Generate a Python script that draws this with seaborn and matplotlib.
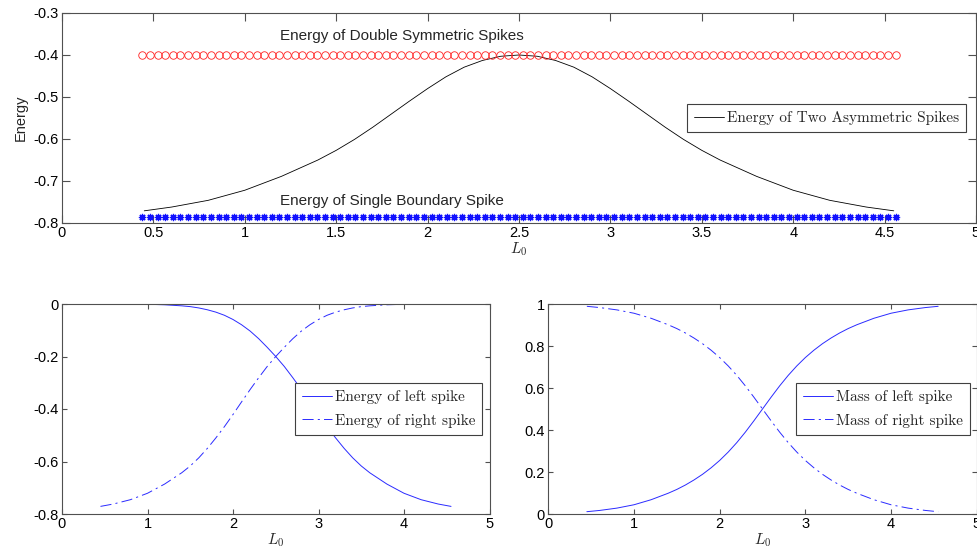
import numpy as np
import pandas as pd
import matplotlib
matplotlib.use("Agg")
import matplotlib.pyplot as plt
import seaborn as sns

# ---------------- data ----------------
L0 = [0.45, 0.6, 0.8, 1.0, 1.2,
      1.4, 1.5, 1.6, 1.7, 1.8, 1.9, 2.0, 2.1, 2.2, 2.3, 2.4, 2.5,
      2.6, 2.7, 2.8, 2.9, 3.0, 3.1, 3.2, 3.3, 3.4, 3.5, 3.6,
      3.8, 4.0, 4.2, 4.4, 4.55]
energy_two_asym = [-0.771, -0.762, -0.746, -0.722, -0.689,
                   -0.650, -0.627, -0.601, -0.572, -0.541, -0.510, -0.480,
                   -0.452, -0.429, -0.413, -0.403, -0.400,
                   -0.403, -0.413, -0.429, -0.452, -0.480, -0.510, -0.541,
                   -0.572, -0.601, -0.627, -0.650,
                   -0.689, -0.722, -0.746, -0.762, -0.771]
energy_left = [0.000, 0.000, -0.0005, -0.001, -0.003,
               -0.007, -0.010, -0.015, -0.022, -0.031, -0.043, -0.059,
               -0.079, -0.103, -0.132, -0.165, -0.200,
               -0.238, -0.281, -0.326, -0.373, -0.421, -0.467, -0.510,
               -0.550, -0.586, -0.617, -0.643,
               -0.686, -0.721, -0.7455, -0.762, -0.771]
energy_right = [-0.771, -0.762, -0.7455, -0.721, -0.686,
                -0.643, -0.617, -0.586, -0.550, -0.510, -0.467, -0.421,
                -0.373, -0.326, -0.281, -0.238, -0.200,
                -0.165, -0.132, -0.103, -0.079, -0.059, -0.043, -0.031,
                -0.022, -0.015, -0.010, -0.007,
                -0.003, -0.001, -0.0005, 0.000, 0.000]
mass_left = [0.011, 0.017, 0.028, 0.044, 0.068,
             0.099, 0.117, 0.138, 0.162, 0.189, 0.220, 0.255,
             0.295, 0.340, 0.390, 0.444, 0.500,
             0.556, 0.610, 0.660, 0.705, 0.745, 0.780, 0.811,
             0.838, 0.862, 0.883, 0.901,
             0.932, 0.956, 0.972, 0.983, 0.989]
mass_right = [0.989, 0.983, 0.972, 0.956, 0.932,
              0.901, 0.883, 0.862, 0.838, 0.811, 0.780, 0.745,
              0.705, 0.660, 0.610, 0.556, 0.500,
              0.444, 0.390, 0.340, 0.295, 0.255, 0.220, 0.189,
              0.162, 0.138, 0.117, 0.099,
              0.068, 0.044, 0.028, 0.017, 0.011]

L0_markers = np.linspace(0.44, 4.56, 100)
energy_double_symmetric = -0.400
energy_single_boundary = -0.785

top_xticks = [0, 0.5, 1, 1.5, 2, 2.5, 3, 3.5, 4, 4.5, 5]
top_xticklabels = ["0", "0.5", "1", "1.5", "2", "2.5", "3", "3.5", "4", "4.5", "5"]
top_yticks = [-0.8, -0.7, -0.6, -0.5, -0.4, -0.3]
top_yticklabels = ["-0.8", "-0.7", "-0.6", "-0.5", "-0.4", "-0.3"]
bot_xticks = [0, 1, 2, 3, 4, 5]
bot_xticklabels = ["0", "1", "2", "3", "4", "5"]
bl_yticks = [-0.8, -0.6, -0.4, -0.2, 0]
bl_yticklabels = ["-0.8", "-0.6", "-0.4", "-0.2", "0"]
br_yticks = [0, 0.2, 0.4, 0.6, 0.8, 1]
br_yticklabels = ["0", "0.2", "0.4", "0.6", "0.8", "1"]

# ---------------- style ----------------
sns.set_theme(style="white")
plt.rcParams["font.family"] = ["Liberation Sans", "DejaVu Sans"]
plt.rcParams["mathtext.fontset"] = "cm"
plt.rcParams["axes.unicode_minus"] = False
plt.rcParams["lines.scale_dashes"] = False

SPINE = "#505050"
TICKFS = 10.5

fig = plt.figure(figsize=(9.77, 5.55), dpi=100)
ax_top = fig.add_axes([62 / 977, 1 - 223 / 555, 914 / 977, 210 / 555])
ax_bl = fig.add_axes([62 / 977, 1 - 514 / 555, 427.5 / 977, 210 / 555])
ax_br = fig.add_axes([548.3 / 977, 1 - 514 / 555, 428.4 / 977, 210 / 555])


def style_axes(ax, ticklen):
    for s in ax.spines.values():
        s.set_visible(True)
        s.set_color(SPINE)
        s.set_linewidth(0.8)
    ax.tick_params(direction="in", top=True, right=True, bottom=True, left=True,
                   length=ticklen, width=0.8, color=SPINE, labelsize=TICKFS,
                   labelcolor="black", pad=2.5)
    ax.grid(False)
    ax.set_facecolor("white")


legend_font = {"family": "cmr10", "size": 11}

# ---------------- top panel ----------------
df_top = pd.DataFrame({"L0": L0, "E": energy_two_asym})
sns.lineplot(data=df_top, x="L0", y="E", ax=ax_top, color="black", linewidth=0.6,
             estimator=None, sort=False, label="Energy of Two Asymmetric Spikes")
ax_top.plot(L0_markers, np.full(len(L0_markers), energy_double_symmetric),
            linestyle="none", marker="o", markersize=5.4, markerfacecolor="none",
            markeredgecolor="#ff2020", markeredgewidth=0.6, zorder=3)
ax_top.plot(L0_markers, np.full(len(L0_markers), energy_single_boundary),
            linestyle="none", marker=(8, 2, 0), markersize=5.2,
            markeredgecolor="#1010ff", markeredgewidth=0.9, zorder=3)
ax_top.set_xlim(0, 5)
ax_top.set_ylim(-0.8, -0.3)
ax_top.set_xticks(top_xticks)
ax_top.set_xticklabels(top_xticklabels)
ax_top.set_yticks(top_yticks)
ax_top.set_yticklabels(top_yticklabels)
style_axes(ax_top, 5.5)
ax_top.set_xlabel("$L_0$", fontsize=11, labelpad=0)
ax_top.set_ylabel("Energy", fontsize=10.5, labelpad=4)
ax_top.text(1.19, -0.355, "Energy of Double Symmetric Spikes", fontsize=11,
            ha="left", va="center")
ax_top.text(1.19, -0.748, "Energy of Single Boundary Spike", fontsize=11,
            ha="left", va="center")

# ---------------- bottom left ----------------
df_bl = pd.DataFrame({"L0": L0 + L0,
                      "E": energy_left + energy_right,
                      "spike": ["Energy of left spike"] * len(L0) + ["Energy of right spike"] * len(L0)})
sns.lineplot(data=df_bl, x="L0", y="E", hue="spike", style="spike", ax=ax_bl,
             palette=["#2a2aff", "#2a2aff"], dashes=["", (8, 3, 1.5, 3)],
             linewidth=0.7, estimator=None, sort=False)
ax_bl.set_xlim(0, 5)
ax_bl.set_ylim(-0.8, 0)
ax_bl.set_xticks(bot_xticks)
ax_bl.set_xticklabels(bot_xticklabels)
ax_bl.set_yticks(bl_yticks)
ax_bl.set_yticklabels(bl_yticklabels)
style_axes(ax_bl, 3.5)
ax_bl.set_xlabel("$L_0$", fontsize=11, labelpad=0)
ax_bl.set_ylabel("")

# ---------------- bottom right ----------------
df_br = pd.DataFrame({"L0": L0 + L0,
                      "M": mass_left + mass_right,
                      "spike": ["Mass of left spike"] * len(L0) + ["Mass of right spike"] * len(L0)})
sns.lineplot(data=df_br, x="L0", y="M", hue="spike", style="spike", ax=ax_br,
             palette=["#2a2aff", "#2a2aff"], dashes=["", (8, 3, 1.5, 3)],
             linewidth=0.7, estimator=None, sort=False)
ax_br.set_xlim(0, 5)
ax_br.set_ylim(0, 1)
ax_br.set_xticks(bot_xticks)
ax_br.set_xticklabels(bot_xticklabels)
ax_br.set_yticks(br_yticks)
ax_br.set_yticklabels(br_yticklabels)
style_axes(ax_br, 3.5)
ax_br.set_xlabel("$L_0$", fontsize=11, labelpad=0)
ax_br.set_ylabel("")

# ---------------- legends ----------------
def make_legend(ax, anchor, borderpad, labelspacing):
    h, l = ax.get_legend_handles_labels()
    leg = ax.legend(h, l, loc="upper left", bbox_to_anchor=anchor,
                    bbox_transform=fig.transFigure, borderaxespad=0,
                    prop=legend_font, frameon=True, fancybox=False,
                    framealpha=1, edgecolor="#404040", handlelength=2.0,
                    handletextpad=0.15, borderpad=borderpad,
                    labelspacing=labelspacing)
    leg.get_frame().set_linewidth(0.8)
    return leg


make_legend(ax_top, (687 / 977, 1 - 104 / 555), 0.45, 0.3)
make_legend(ax_bl, (295 / 977, 1 - 383 / 555), 0.45, 0.65)
make_legend(ax_br, (796 / 977, 1 - 383 / 555), 0.45, 0.65)

fig.savefig("out.png", dpi=100, facecolor="white")
